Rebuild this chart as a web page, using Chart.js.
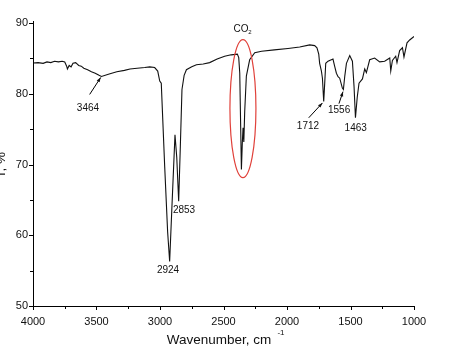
<!DOCTYPE html>
<html>
<head>
<meta charset="utf-8">
<script src="https://cdn.jsdelivr.net/npm/chart.js@4"></script>
<style>
  html, body { margin: 0; padding: 0; background: #fff; }
  #wrap { width: 450px; height: 354px; }
</style>
</head>
<body>
<div id="wrap"><canvas id="myChart" width="450" height="354"></canvas></div>
<script>
// IR spectrum
var wavenumbers = [4000, 3960, 3920, 3890, 3860, 3830, 3800, 3770, 3750, 3735, 3729, 3715, 3700, 3685, 3664, 3640, 3620, 3600, 3570, 3540, 3510, 3480, 3461,
  3400, 3340, 3280, 3236, 3180, 3120, 3081, 3042, 3018, 3002, 2990, 2963, 2940, 2924, 2905, 2882, 2868, 2853, 2840, 2827, 2810, 2792, 2750, 2713, 2660, 2609,
  2550, 2491, 2440, 2391, 2380, 2372, 2359, 2352, 2346, 2340, 2333, 2320, 2294, 2254, 2200, 2100, 1992, 1900, 1821, 1782, 1764, 1750, 1743, 1729, 1721, 1711,
  1703, 1695, 1677, 1638, 1625, 1611, 1598, 1585, 1564, 1556, 1545, 1532, 1506, 1485, 1472, 1461, 1447, 1433, 1406, 1388, 1375, 1349, 1310, 1270, 1231, 1191,
  1183, 1170, 1144, 1134, 1113, 1091, 1079, 1055, 1034, 1000];
var transmittance = [84.35, 84.4, 84.3, 84.5, 84.4, 84.6, 84.5, 84.6, 84.5, 83.9, 83.5, 84.0, 83.8, 84.3, 84.4, 84.0, 83.9, 83.6, 83.4, 83.1, 82.9, 82.6, 82.45,
  82.8, 83.1, 83.3, 83.5, 83.6, 83.7, 83.8, 83.7, 83.2, 81.8, 81.5, 69.7, 60.5, 56.3, 64.5, 74.2, 71.0, 64.8, 72.5, 80.6, 82.6, 83.4, 83.8, 84.1, 84.2, 84.4,
  84.9, 85.3, 85.5, 85.6, 85.1, 82.9, 69.3, 73.0, 75.2, 73.2, 77.5, 82.5, 84.8, 85.8, 86.0, 86.2, 86.4, 86.6, 86.9, 86.8, 86.5, 85.6, 84.3, 83.2, 82.2, 78.9,
  81.5, 84.3, 84.6, 84.9, 83.9, 82.9, 82.4, 82.2, 80.8, 80.6, 82.5, 84.3, 85.4, 84.6, 81.0, 76.6, 79.5, 81.5, 82.1, 83.5, 83.0, 84.8, 85.05, 84.5, 84.6, 85.05,
  83.2, 84.7, 85.3, 84.4, 86.1, 86.5, 85.2, 87.2, 87.6, 88.1];

var xTicks = [4000, 3500, 3000, 2500, 2000, 1500, 1000];
var yTicks = [50, 60, 70, 80, 90];

// peak labels: text, label position, arrow start and arrow tip (wavenumber, T)
var peakLabels = ['3464', '2924', '2853', '1712', '1556', '1463'];
var peakText = [[3567, 77.9], [2937, 55.1], [2811, 63.5], [1835, 75.4], [1590, 77.6], [1459, 75.1]];
var arrowFrom = [[3554, 79.9], null, null, [1829, 76.6], [1591, 78.6], null];
var arrowTo = [[3467, 82.3], null, null, [1721, 78.7], [1559, 80.3], null];

var points = wavenumbers.map(function (w, i) { return { x: w, y: transmittance[i] }; });

var font = 'Arial, "Liberation Sans", sans-serif';

var extras = {
  id: 'extras',
  afterDraw: function (chart) {
    var c = chart.ctx, xs = chart.scales.x, ys = chart.scales.y;
    var area = chart.chartArea;
    c.save();
    c.strokeStyle = '#000';
    c.lineWidth = 1;
    // axis lines
    c.beginPath();
    c.moveTo(area.left + 0.5, area.top - 2);
    c.lineTo(area.left + 0.5, area.bottom + 0.5);
    c.lineTo(area.right + 1, area.bottom + 0.5);
    c.stroke();
    // ticks, major + minor
    for (var v = 1000; v <= 4000; v += 250) {
      var px = Math.round(xs.getPixelForValue(v)) + 0.5;
      c.beginPath();
      c.moveTo(px, area.bottom);
      c.lineTo(px, area.bottom + (v % 500 === 0 ? 4 : 3));
      c.stroke();
    }
    for (var t = 50; t <= 90; t += 5) {
      var py = Math.round(ys.getPixelForValue(t)) + 0.5;
      c.beginPath();
      c.moveTo(area.left, py);
      c.lineTo(area.left - (t % 10 === 0 ? 4 : 3), py);
      c.stroke();
    }
    // tick labels
    c.fillStyle = '#111';
    c.font = '11px ' + font;
    c.textAlign = 'center';
    c.textBaseline = 'middle';
    xTicks.forEach(function (v) { c.fillText(String(v), xs.getPixelForValue(v), area.bottom + 16); });
    c.textAlign = 'right';
    yTicks.forEach(function (v) { c.fillText(String(v), area.left - 5, ys.getPixelForValue(v)); });
    // axis titles
    c.textAlign = 'center';
    c.font = '13.5px ' + font;
    c.fillText('Wavenumber, cm', 219, 340);
    c.font = '8px ' + font;
    c.fillText('-1', 281, 333);
    c.save();
    c.translate(1, 165);
    c.rotate(-Math.PI / 2);
    c.font = '13.5px ' + font;
    c.fillText('T, %', 0, 0);
    c.restore();
    // peak labels and arrows
    c.font = '10px ' + font;
    c.fillStyle = '#111';
    peakLabels.forEach(function (lab, i) {
      c.fillText(lab, xs.getPixelForValue(peakText[i][0]), ys.getPixelForValue(peakText[i][1]));
      if (arrowFrom[i]) {
        var sx = xs.getPixelForValue(arrowFrom[i][0]), sy = ys.getPixelForValue(arrowFrom[i][1]);
        var ax = xs.getPixelForValue(arrowTo[i][0]), ay = ys.getPixelForValue(arrowTo[i][1]);
        c.beginPath();
        c.moveTo(sx, sy);
        c.lineTo(ax, ay);
        c.stroke();
        var ang = Math.atan2(ay - sy, ax - sx);
        c.beginPath();
        c.moveTo(ax, ay);
        c.lineTo(ax - 5 * Math.cos(ang - 0.35), ay - 5 * Math.sin(ang - 0.35));
        c.lineTo(ax - 5 * Math.cos(ang + 0.35), ay - 5 * Math.sin(ang + 0.35));
        c.closePath();
        c.fill();
      }
    });
    // CO2 label + ellipse
    var cx = xs.getPixelForValue(2347);
    c.font = '10px ' + font;
    c.fillText('CO', cx - 2, ys.getPixelForValue(89.1));
    c.font = '6px ' + font;
    c.fillText('2', cx + 7, ys.getPixelForValue(88.7));
    c.strokeStyle = '#e0413a';
    c.lineWidth = 1.2;
    c.beginPath();
    c.ellipse(cx, ys.getPixelForValue(77.9), 13, 69, 0, 0, Math.PI * 2);
    c.stroke();
    c.restore();
  }
};

new Chart(document.getElementById('myChart').getContext('2d'), {
  type: 'line',
  data: {
    datasets: [{
      data: points,
      borderColor: '#111',
      borderWidth: 1.1,
      pointRadius: 0,
      tension: 0
    }]
  },
  options: {
    responsive: false,
    animation: false,
    layout: { padding: { left: 33, top: 23, right: 36, bottom: 48 } },
    plugins: { legend: { display: false }, tooltip: { enabled: false } },
    scales: {
      x: {
        type: 'linear', reverse: true, min: 1000, max: 4000,
        display: false
      },
      y: {
        min: 50, max: 90,
        display: false
      }
    }
  },
  plugins: [extras]
});
</script>
</body>
</html>
